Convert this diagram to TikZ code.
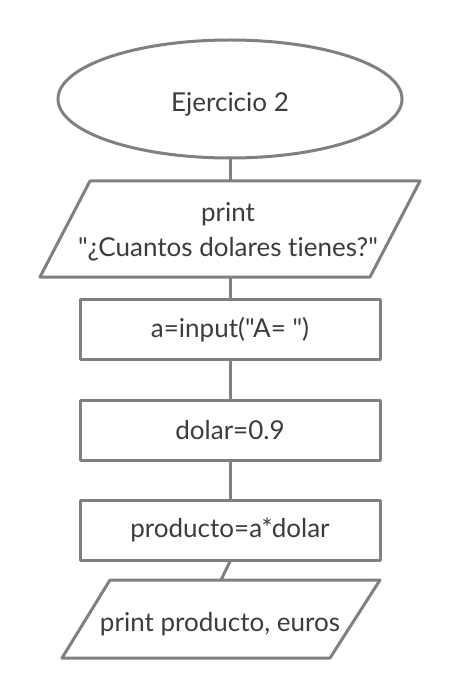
\documentclass[tikz,border=0pt]{standalone}
\usepackage{fontspec}
\setmainfont{Lato}[Ligatures={TeXOff,NoCommon}]
\usetikzlibrary{shapes.geometric}
\definecolor{lc}{RGB}{128,128,128}
\definecolor{tc}{RGB}{60,60,60}
\tikzset{
  shapeline/.style={draw=lc,line width=3pt,line join=round,fill=white},
  lbl/.style={text=tc,font=\fontsize{26}{35}\selectfont,align=center,inner sep=0pt},
  conn/.style={draw=lc,line width=3pt},
  procbox/.style={rectangle,shapeline,minimum width=300pt,minimum height=60pt,inner sep=0pt,text=tc,font=\fontsize{26}{30}\selectfont}
}
\begin{document}
\begin{tikzpicture}[x=1pt,y=-1pt]
\useasboundingbox[fill=white] (0,0) rectangle (460,700);
% start ellipse
\node[ellipse,shapeline,minimum width=344pt,minimum height=118pt,inner sep=0pt] (start) at (230,99) {};
\node[lbl] (starttext) at (230,104) {Ejercicio 2};
% parallelogram 1
\draw[shapeline] (90,181) -- (420,181) -- (370,277) -- (40,277) -- cycle;
\coordinate (p1top) at (230,181);
\coordinate (p1bot) at (230,277);
\node[lbl] (p1) at (228,232) {print\\"¿Cuantos dolares tienes?"};
% process boxes
\node[procbox] (r1) at (230,329.5) {a=input("A= ")};
\node[procbox] (r2) at (230,430) {dolar=0.9};
\node[procbox] (r3) at (230,530) {producto=a*dolar};
% parallelogram 2
\draw[shapeline] (110,580) -- (380,580) -- (330,658) -- (62,658) -- cycle;
\coordinate (p2top) at (221,580);
\node[lbl] (p2) at (220,624) {print producto, euros};
% connectors
\draw[conn] (start.south) -- (p1top);
\draw[conn] (p1bot) -- (r1.north);
\draw[conn] (r1.south) -- (r2.north);
\draw[conn] (r2.south) -- (r3.north);
\draw[conn] (r3.south) -- (p2top);
\end{tikzpicture}
\end{document}
